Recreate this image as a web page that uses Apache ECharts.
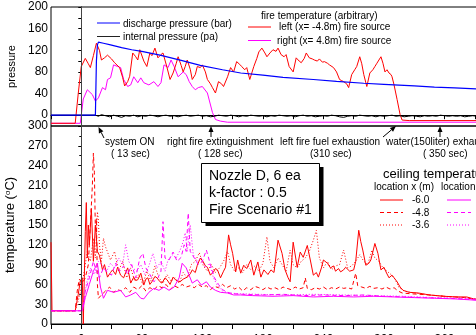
<!DOCTYPE html>
<html>
<head>
<meta charset="utf-8">
<script src="https://cdn.jsdelivr.net/npm/echarts@6/dist/echarts.min.js"></script>
<style>
  html, body { margin: 0; padding: 0; background: #fff; }
  #chartmain { width: 476px; height: 335px; }
</style>
</head>
<body>
<div id="chartmain"></div>
<script>
// time axis (sec), tick labels
var timeTicks = [0, 60, 120, 180, 240, 300, 360];
var pressTicks = [0, 40, 80, 120, 160, 200];
var tempTicks = [0, 30, 60, 90, 120, 150, 180, 210, 240, 270, 300];

// top panel: pressure
var dischargeP = [[-30,0],[14,0],[15,100],[16,130],[17,135],[22,133],[29,130],[40,125],[50,121],[60,118],[78,111],[100,101],[118,92],[140,84],[158,78],[180,74],[200,70],[230,66],[253,62.5],[280,59],[300,57],[330,54],[350,52],[370,50.5],[392,48.5],[415,47]];
var internalP = [[-30,0],[14,0],[17,-2],[20,1],[24,-1],[28,-3],[32,0],[36,-2],[40,-4],[44,-1],[48,-2],[52,0],[56,-3],[60,-1],[64,-2],[68,0],[72,-1],[76,-3],[80,-1],[84,0],[88,-2],[92,-1],[96,-3],[100,-1],[104,0],[108,-2],[112,-1],[116,0],[120,-2],[124,-1],[128,-3],[132,-2],[136,0],[140,-1],[144,-2],[148,0],[152,-1],[156,-3],[160,-1],[164,-2],[168,0],[172,-1],[176,-2],[180,-1],[184,-3],[188,-1],[192,-2],[196,0],[200,-1],[204,-2],[208,-1],[212,-3],[216,-1],[220,0],[224,-2],[228,-1],[232,-3],[236,-2],[240,-1],[244,-2],[248,0],[252,-1],[256,-3],[260,-4],[264,-2],[268,-1],[272,-2],[276,0],[280,-1],[284,-2],[288,-1],[292,-3],[296,-1],[300,-2],[304,-1],[308,0],[312,-2],[316,-1],[320,-3],[324,-2],[328,-1],[332,-2],[336,-3],[340,-1],[344,-2],[348,-1],[352,-2],[356,0],[360,-1],[364,-2],[368,-1],[372,-2],[376,-1],[380,-3],[384,-2],[388,-1],[392,-2],[396,-1],[400,-2],[404,-1],[408,-2],[412,-1],[415,-2]];
var fireLeft = [[-30,-15],[-6,-15],[-3,40],[0,90],[4,105],[7,95],[9,88],[12,110],[15,133],[18,120],[20,102],[23,106],[26,111],[30,104],[33,97],[38,88],[41,70],[43,54],[46,62],[48,72],[51,115],[54,108],[56,102],[58,121],[62,100],[65,90],[68,115],[70,110],[73,124],[76,106],[79,112],[81,115],[85,88],[88,66],[91,78],[94,95],[96,108],[99,92],[101,80],[103,90],[105,102],[108,85],[110,66],[113,75],[115,90],[118,88],[120,93],[123,80],[125,66],[128,58],[130,51],[133,41],[136,62],[139,58],[141,53],[145,71],[148,88],[151,80],[154,99],[157,94],[159,90],[162,84],[164,88],[167,66],[169,78],[171,90],[174,105],[176,117],[179,124],[182,115],[184,108],[187,115],[190,121],[193,118],[195,124],[198,112],[201,108],[203,112],[206,90],[210,80],[213,106],[216,100],[218,97],[221,105],[223,115],[226,106],[229,104],[231,102],[234,100],[236,104],[239,98],[241,99],[244,96],[246,93],[250,88],[253,80],[256,66],[258,64],[260,62],[263,58],[265,51],[268,75],[271,84],[273,90],[276,108],[278,95],[280,75],[283,53],[286,78],[289,84],[291,90],[293,96],[295,102],[297,108],[299,96],[301,80],[303,84],[305,78],[307,75],[308,71],[310,56],[313,29],[316,1],[318,-9],[325,-10],[415,-10]];
var fireRight = [[-30,-15],[-1,-15],[2,30],[6,47],[11,38],[14,26],[17,32],[21,51],[24,47],[26,66],[29,69],[32,93],[36,90],[39,88],[42,66],[46,53],[49,56],[52,71],[56,60],[59,69],[62,60],[67,56],[72,62],[76,53],[79,60],[82,93],[86,88],[89,102],[92,90],[96,71],[101,80],[104,75],[107,62],[110,53],[113,47],[116,51],[120,53],[125,41],[130,5],[133,-8],[138,-11],[145,-13],[415,-13]];

// bottom panel: ceiling temperature
var tLeft60 = [[-30,124],[-29,20],[-6,20],[-3,45],[-1,65],[1,70],[2,0],[3,0],[4,140],[5,184],[6,100],[7,150],[8,120],[10,175],[12,95],[14,150],[16,110],[18,104],[21,82],[23,90],[26,71],[29,78],[31,82],[34,75],[36,86],[39,74],[42,70],[44,78],[46,85],[49,62],[52,71],[54,66],[56,67],[59,77],[62,59],[64,68],[66,70],[68,60],[70,64],[73,72],[75,70],[78,64],[80,62],[83,70],[85,67],[88,60],[91,71],[94,66],[98,64],[101,68],[105,71],[108,76],[110,82],[113,78],[115,89],[118,100],[121,94],[123,88],[125,86],[128,74],[131,79],[133,84],[135,82],[138,70],[141,80],[143,86],[146,135],[148,120],[150,107],[153,79],[155,97],[158,77],[161,89],[164,84],[168,97],[171,74],[175,94],[178,71],[181,82],[185,75],[188,82],[191,78],[195,127],[199,107],[202,82],[205,70],[207,64],[210,124],[214,86],[217,109],[220,101],[224,119],[227,97],[230,74],[233,78],[235,71],[238,85],[240,97],[244,92],[247,85],[250,88],[252,80],[255,84],[257,79],[260,82],[262,86],[266,80],[270,82],[272,95],[275,142],[277,125],[279,112],[282,89],[285,92],[287,97],[291,122],[294,107],[297,82],[300,86],[302,79],[305,70],[308,74],[310,70],[313,64],[316,56],[319,51],[325,48],[334,47],[345,44],[359,42],[372,41],[382,41],[389,38],[400,37],[415,36]];
var tLeft48 = [[-30,20],[-6,20],[-4,50],[-2,68],[1,62],[4,70],[7,90],[9,150],[11,210],[12,259],[13,230],[14,140],[15,160],[16,60],[17,39],[20,44],[24,50],[28,56],[32,48],[36,52],[40,50],[44,55],[48,48],[52,56],[56,52],[60,58],[64,50],[68,55],[72,52],[76,58],[80,55],[84,60],[88,52],[92,58],[96,55],[100,60],[104,56],[108,58],[112,55],[116,60],[120,56],[124,58],[128,52],[132,57],[136,55],[140,60],[144,55],[148,58],[152,53],[156,56],[160,50],[164,55],[168,52],[172,57],[176,55],[180,52],[184,56],[188,53],[192,55],[196,52],[200,56],[204,54],[208,52],[212,56],[216,53],[220,55],[222,70],[224,54],[228,52],[232,55],[236,53],[240,56],[244,52],[248,55],[252,53],[256,56],[260,54],[264,55],[268,53],[272,77],[274,58],[278,56],[282,54],[286,57],[290,54],[294,55],[298,53],[302,56],[306,53],[310,55],[314,50],[318,47],[325,46],[335,45],[345,44],[360,42],[380,40],[392,37],[415,36]];
var tLeft36 = [[-30,20],[-6,20],[-3,35],[0,55],[3,80],[6,110],[9,95],[12,130],[14,100],[16,170],[17,157],[18,120],[20,95],[22,130],[24,117],[29,97],[33,110],[37,80],[41,95],[45,70],[49,85],[53,65],[57,75],[61,60],[65,80],[69,65],[73,88],[77,70],[81,62],[85,75],[89,65],[93,70],[97,62],[101,78],[105,70],[109,90],[113,95],[117,108],[121,88],[125,80],[129,90],[133,78],[137,85],[141,95],[145,110],[148,90],[152,80],[156,85],[160,78],[164,90],[168,82],[172,88],[176,80],[180,92],[184,132],[187,95],[191,85],[195,100],[199,90],[203,80],[207,112],[210,90],[214,85],[218,95],[222,100],[226,110],[230,127],[233,142],[236,100],[240,85],[244,95],[248,82],[252,88],[256,90],[260,112],[264,85],[268,88],[272,95],[276,105],[280,95],[284,90],[288,112],[291,100],[295,95],[299,85],[303,80],[307,75],[311,68],[315,55],[320,50],[330,47],[345,44],[360,42],[380,40],[395,37],[415,36]];
var tRight60 = [[-30,20],[1,20],[4,40],[8,60],[12,80],[16,92],[19,56],[22,39],[26,51],[32,48],[39,51],[44,41],[49,44],[54,48],[59,39],[62,38],[67,48],[72,54],[77,51],[82,56],[87,51],[92,56],[97,70],[100,92],[104,85],[110,62],[115,67],[119,59],[124,64],[128,56],[133,51],[138,48],[145,47],[151,44],[158,44],[170,43],[190,42],[210,43],[230,41],[250,42],[270,41],[290,42],[310,41],[330,40],[350,39],[370,38],[392,36],[415,35]];
var tRight48 = [[-30,20],[1,20],[4,50],[8,70],[12,95],[15,80],[18,70],[22,85],[26,78],[30,74],[34,92],[38,80],[42,88],[46,75],[50,90],[54,70],[58,100],[61,107],[64,85],[68,75],[72,64],[76,70],[79,80],[81,155],[83,100],[87,97],[91,109],[95,95],[99,101],[102,120],[104,110],[106,168],[108,110],[112,100],[116,90],[120,95],[124,112],[128,90],[132,70],[136,60],[140,52],[145,48],[150,46],[160,45],[180,44],[200,45],[220,43],[240,44],[260,43],[280,44],[300,42],[320,41],[340,40],[360,39],[380,38],[395,36],[415,35]];
var tRight36 = [[-30,20],[1,20],[5,60],[9,85],[13,75],[17,95],[21,88],[25,80],[29,92],[33,85],[37,100],[41,90],[44,120],[47,95],[51,85],[55,80],[59,90],[63,75],[67,88],[71,107],[75,85],[79,95],[83,80],[86,97],[90,105],[94,100],[98,112],[101,125],[103,138],[105,110],[108,150],[111,105],[115,95],[119,100],[123,85],[127,92],[131,70],[135,58],[140,50],[146,47],[155,46],[175,45],[200,44],[230,45],[260,44],[290,43],[320,42],[350,40],[380,39],[400,37],[415,36]];

var fontName = '"Liberation Sans", Arial, sans-serif';

function txt(s, x, y, size, align) {
  return {
    type: 'text', x: x, y: y, z: 100,
    style: { text: s, font: size + 'px ' + fontName, fill: '#000', textAlign: align || 'left', textVerticalAlign: 'middle', verticalAlign: 'middle' }
  };
}
function seg(x1, y1, x2, y2, color, dash) {
  return {
    type: 'line', z: 100,
    shape: { x1: x1, y1: y1, x2: x2, y2: y2 },
    style: { stroke: color, lineWidth: 1, lineDash: dash || null }
  };
}
// arrow with head at (x2,y2)
function arrow(x1, y1, x2, y2) {
  var dx = x2 - x1, dy = y2 - y1, len = Math.sqrt(dx * dx + dy * dy);
  var ux = dx / len, uy = dy / len;
  var bx = x2 - ux * 6, by = y2 - uy * 6;
  return [
    seg(x1, y1, bx, by, '#000'),
    { type: 'polygon', z: 100, shape: { points: [[x2, y2], [bx - uy * 2.5, by + ux * 2.5], [bx + uy * 2.5, by - ux * 2.5]] }, style: { fill: '#000' } }
  ];
}

var elems = [
  seg(97, 23, 120, 23, '#0000ff'), txt('discharge pressure (bar)', 123, 24, 10),
  seg(97, 36.5, 120, 36.5, '#222'), txt('internal pressure (pa)', 123, 37, 10),
  txt('fire temperature (arbitrary)', 261, 16, 10),
  seg(248, 27, 271, 27, '#ff0000'), txt('left (x= -4.8m) fire source', 279, 27, 10),
  seg(248, 40.5, 271, 40.5, '#ff00ff'), txt('right (x= 4.8m) fire source', 277, 41, 10),

  txt('system ON', 105, 142, 10), txt('( 13 sec)', 111, 154, 10),
  txt('right fire extinguishment', 167, 142, 10), txt('( 128 sec)', 198, 154, 10),
  txt('left fire fuel exhaustion', 280, 142, 10), txt('(310 sec)', 310, 154, 10),
  txt('water(150liter) exhaustion', 386, 142, 10), txt('( 350 sec)', 423, 154, 10),

  { type: 'rect', z: 99, shape: { x: 205.5, y: 167, width: 118, height: 59 }, style: { fill: '#000' } },
  { type: 'rect', z: 100, shape: { x: 201.5, y: 163.5, width: 118, height: 59 }, style: { fill: '#fff', stroke: '#000', lineWidth: 1 } },
  txt('Nozzle D, 6 ea', 209, 176, 14), txt('k-factor : 0.5', 209, 193.5, 14), txt('Fire Scenario #1', 209, 210.5, 14),

  txt('ceiling temperature', 383, 174, 13),
  txt('location x (m)', 374, 187, 10), txt('location x (m)', 441, 187, 10),
  seg(380, 200, 403, 200, '#ff0000'), txt('-6.0', 412, 200.5, 10),
  seg(380, 212.5, 403, 212.5, '#ff0000', [4, 3]), txt('-4.8', 412, 213, 10),
  seg(380, 225, 403, 225, '#ff0000', [1, 2]), txt('-3.6', 412, 225.5, 10),
  seg(447, 200, 471, 200, '#ff00ff'), txt('6.0', 478, 200.5, 10),
  seg(447, 212.5, 471, 212.5, '#ff00ff', [4, 3]),
  seg(447, 225, 471, 225, '#ff00ff', [1, 2])
];
elems = elems.concat(arrow(104, 138, 98.5, 127), arrow(211, 137, 211, 126), arrow(383, 137, 396, 126), arrow(440, 137, 440, 126));

function lineSeries(name, data, idx, color, dash, width) {
  return {
    name: name, type: 'line', data: data, xAxisIndex: idx, yAxisIndex: idx,
    symbol: 'none', animation: false,
    lineStyle: { color: color, width: width || 1, type: dash || 'solid' }
  };
}

var zeroLine = {
  silent: true, symbol: 'none', label: { show: false },
  lineStyle: { color: '#444', width: 1, type: 'solid' },
  data: [{ xAxis: 0 }]
};

var axisCommon = {
  axisLine: { show: true, lineStyle: { color: '#000', width: 1 } },
  splitLine: { show: false }
};

var option = {
  animation: false,
  backgroundColor: '#fff',
  textStyle: { fontFamily: fontName },
  grid: [
    { left: 51, top: 7, width: 449, height: 119, show: true, borderColor: '#000', borderWidth: 1, backgroundColor: 'transparent', outerBoundsMode: 'none', containLabel: false },
    { left: 51, top: 126, width: 449, height: 198, show: true, borderColor: '#000', borderWidth: 1, backgroundColor: 'transparent', outerBoundsMode: 'none', containLabel: false }
  ],
  xAxis: [
    Object.assign({}, axisCommon, {
      type: 'value', gridIndex: 0, min: -30, max: 415, interval: 30,
      axisTick: { show: true, length: 4, lineStyle: { color: '#000' } },
      axisLabel: { show: false }
    }),
    Object.assign({}, axisCommon, {
      type: 'value', gridIndex: 1, min: -30, max: 415, interval: 30,
      axisTick: { show: true, length: 5, lineStyle: { color: '#000' } },
      axisLabel: { show: true, customValues: timeTicks, fontSize: 12, color: '#000', margin: 10, fontFamily: fontName }
    })
  ],
  yAxis: [
    Object.assign({}, axisCommon, {
      type: 'value', gridIndex: 0, min: -20, max: 200, interval: 20,
      name: 'pressure', nameLocation: 'middle', nameGap: 27,
      nameTextStyle: { fontSize: 11, color: '#000', fontFamily: fontName },
      axisTick: { show: true, length: 3, lineStyle: { color: '#000' } },
      axisLabel: { customValues: pressTicks, fontSize: 12, color: '#000', margin: 3, fontFamily: fontName }
    }),
    Object.assign({}, axisCommon, {
      type: 'value', gridIndex: 1, min: 0, max: 300, interval: 30,
      name: 'temperature ({s|o}C)', nameLocation: 'middle', nameGap: 27,
      nameTextStyle: { fontSize: 13, color: '#000', fontFamily: fontName, rich: { s: { fontSize: 8, padding: [0, 0, 6, 0], fontFamily: fontName, color: '#000' } } },
      axisTick: { show: true, length: 3, lineStyle: { color: '#000' } },
      minorTick: { show: true, splitNumber: 2, length: 2, lineStyle: { color: '#000' } },
      axisLabel: { customValues: tempTicks, fontSize: 12, color: '#000', margin: 3, fontFamily: fontName }
    })
  ],
  series: [
    lineSeries('right (x= 4.8m) fire source', fireRight, 0, '#ff00ff'),
    lineSeries('left (x= -4.8m) fire source', fireLeft, 0, '#ff0000'),
    lineSeries('internal pressure (pa)', internalP, 0, '#000'),
    Object.assign(lineSeries('discharge pressure (bar)', dischargeP, 0, '#0000ff', 'solid', 1.2), { markLine: zeroLine }),
    Object.assign(lineSeries('-6.0', tLeft60, 1, '#ff0000'), { markLine: zeroLine }),
    lineSeries('-4.8', tLeft48, 1, '#ff0000', [4, 3]),
    lineSeries('-3.6', tLeft36, 1, '#ff0000', [1, 2]),
    lineSeries('6.0', tRight60, 1, '#ff00ff'),
    lineSeries('4.8', tRight48, 1, '#ff00ff', [4, 3]),
    lineSeries('3.6', tRight36, 1, '#ff00ff', [1, 2])
  ],
  graphic: { elements: elems }
};

var myChart = echarts.init(document.getElementById('chartmain'));
myChart.setOption(option);
</script>
</body>
</html>
